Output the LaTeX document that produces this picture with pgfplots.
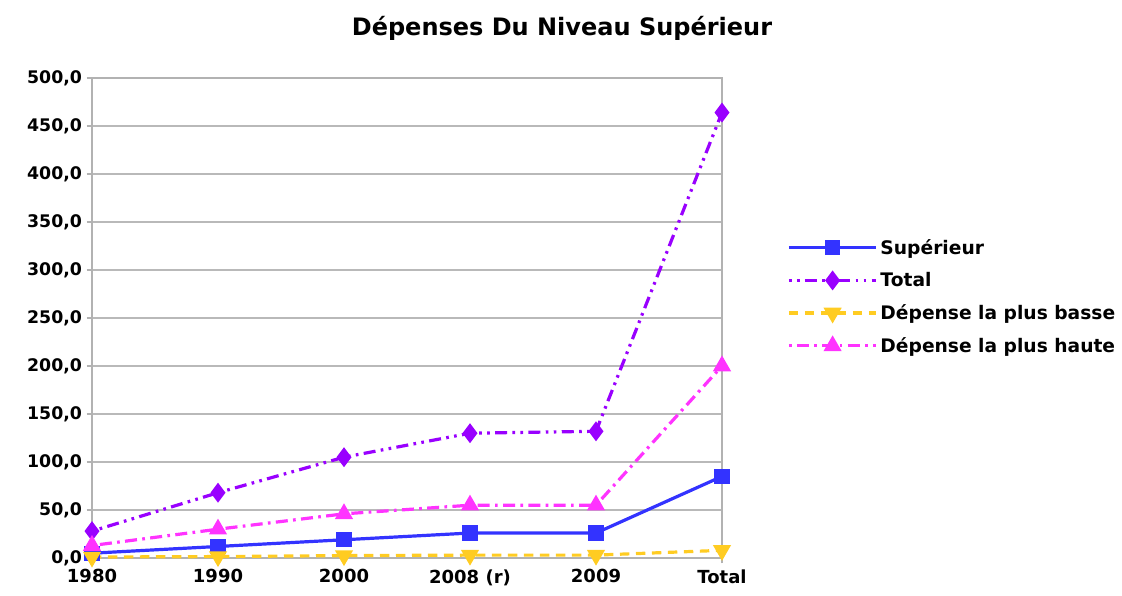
\documentclass[border=0pt]{standalone}
\usepackage{fontspec}
\setmainfont{DejaVu Sans}
\usepackage{pgfplots}
\pgfplotsset{compat=1.18}
\definecolor{cblue}{HTML}{3333FF}
\definecolor{cpurple}{HTML}{9900FF}
\definecolor{cyellow}{HTML}{FFCC22}
\definecolor{cmag}{HTML}{FF33FF}
\begin{document}
\begin{tikzpicture}[x=0.75pt,y=0.75pt]
\useasboundingbox (0,0) rectangle (1122,596);
\node[font=\bfseries\fontsize{18}{21}\selectfont] at (562,568) {Dépenses Du Niveau Supérieur};
\begin{axis}[
  at={(69pt,28.5pt)}, anchor=south west,
  scale only axis, width=472.5pt, height=360pt,
  xmin=0, xmax=5, ymin=0, ymax=500,
  xtick={0,1,2,3,4,5},
  xticklabels={1980,1990,2000,2008 (r),2009,Total},
  ytick={0,50,...,500},
  axis line style={draw=gray!60, line width=0.8pt},
  major grid style={draw=gray!55, line width=0.8pt},
  ymajorgrids,
  tick style={draw=gray!60, line width=0.8pt},
  tick pos=left, tick align=outside, major tick length=4pt,
  yticklabel style={font=\bfseries\fontsize{13}{15}\selectfont},
  xticklabel style={font=\bfseries\fontsize{13.5}{15}\selectfont, yshift=-1pt},
  /pgf/number format/assume math mode=true,
  yticklabel={\pgfmathprintnumber[fixed,fixed zerofill,precision=1,use comma]{\tick}},
  legend style={at={(1.097,0.544)}, anchor=west, draw=none, fill=none,
    font=\bfseries\fontsize{14}{16}\selectfont, row sep=8pt},
  legend cell align=left,
  legend image code/.code={\draw[mark repeat=2,mark phase=2] plot coordinates {(0cm,0cm) (1.15cm,0cm) (2.3cm,0cm)};},
  every axis plot/.append style={line width=2.4pt},
  clip=false,
]
\addplot[color=cblue, mark=square*, mark size=4.5pt, mark options={solid}]
  coordinates {(0,5) (1,12) (2,19) (3,26) (4,26) (5,85)};
\addlegendentry{Supérieur}
\addplot[color=cpurple, mark=diamond*, mark size=5.5pt, mark options={solid},
  dash pattern=on 2pt off 4pt on 2pt off 4pt on 9pt off 4pt]
  coordinates {(0,28) (1,68) (2,105) (3,130) (4,132) (5,464)};
\addlegendentry{Total}
\addplot[color=cyellow, mark=triangle*, mark size=5.5pt, mark options={solid, rotate=180},
  dash pattern=on 7pt off 5pt]
  coordinates {(0,1) (1,1.5) (2,2.5) (3,3) (4,3) (5,8)};
\addlegendentry{Dépense la plus basse}
\addplot[color=cmag, mark=triangle*, mark size=5.5pt, mark options={solid},
  dash pattern=on 2pt off 4pt on 9pt off 4pt]
  coordinates {(0,13) (1,30) (2,46) (3,55) (4,55) (5,200)};
\addlegendentry{Dépense la plus haute}
\end{axis}
\end{tikzpicture}
\end{document}
